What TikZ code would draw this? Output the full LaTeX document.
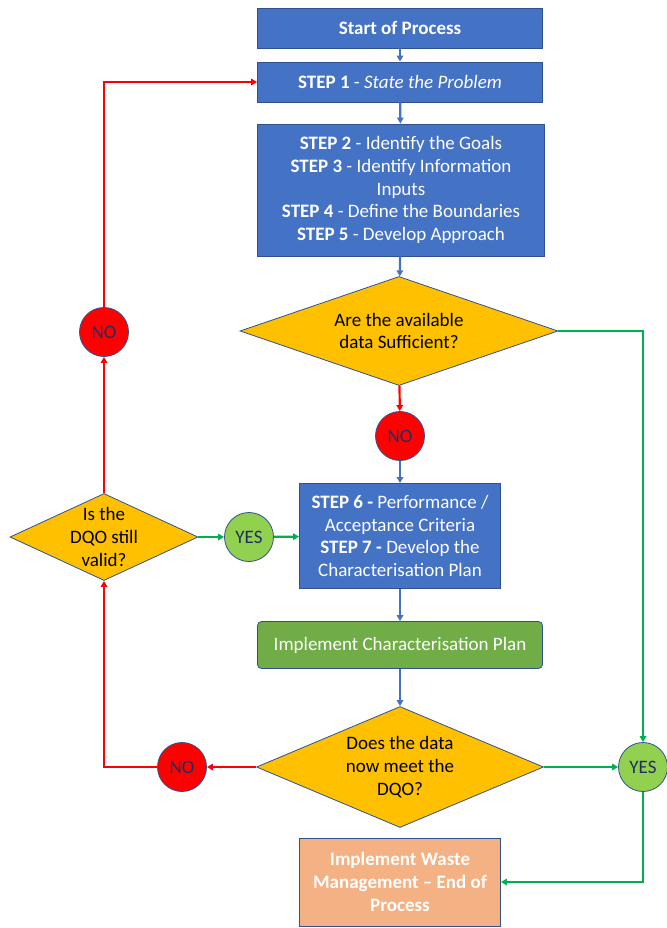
\documentclass[tikz,border=0pt]{standalone}
\usepackage{fontspec}
\setmainfont{Carlito}
\usetikzlibrary{shapes.geometric, arrows.meta}
\definecolor{boxblue}{HTML}{4472C4}
\definecolor{edgeblue}{HTML}{2F528F}
\definecolor{qgold}{HTML}{FFC000}
\definecolor{nored}{HTML}{FF0000}
\definecolor{yesgreen}{HTML}{92D050}
\definecolor{plangreen}{HTML}{70AD47}
\definecolor{endorange}{HTML}{F4B183}
\definecolor{linegreen}{HTML}{00B050}
\definecolor{circtext}{HTML}{1F2F5F}
\tikzstyle{stepbox} = [rectangle, draw=edgeblue, line width=0.8pt, fill=boxblue, text=white, align=center, inner sep=0pt]
\tikzstyle{question} = [diamond, draw=edgeblue, line width=0.8pt, fill=qgold, text=black, align=center, inner sep=0pt, aspect=2.9]
\tikzstyle{nocirc} = [circle, draw=edgeblue, line width=0.8pt, fill=nored, text=circtext, minimum size=49pt, inner sep=0pt]
\tikzstyle{yescirc} = [nocirc, fill=yesgreen]
\tikzstyle{arrow} = [line width=2.2pt, -{Triangle[length=6pt,width=6.5pt]}]
\tikzstyle{bluearrow} = [arrow, draw=boxblue]
\tikzstyle{redarrow} = [arrow, draw=nored]
\tikzstyle{greenarrow} = [arrow, draw=linegreen]

\begin{document}
\begin{tikzpicture}[x=1pt, y=-1pt, font=\fontsize{19}{22.9}\selectfont]
	\useasboundingbox (0,0) rectangle (666,928);
	% main column
	\node[stepbox, minimum width=285, minimum height=40] (start) at (400,28) {\textbf{Start of Process}};
	\node[stepbox, minimum width=285, minimum height=40] (step1) at (400,82) {\textbf{STEP 1} - \textit{State the Problem}};
	\node[stepbox, minimum width=287, minimum height=132] (step25) at (401,190)
		{\textbf{STEP 2} - Identify the Goals\\\textbf{STEP 3} - Identify Information\\Inputs\\\textbf{STEP 4} - Define the Boundaries\\\textbf{STEP 5} - Develop Approach};
	\node[question, minimum width=318, minimum height=109] (suff) at (399,331) {Are the available\\data Sufficient?};
	\node[nocirc] (no1) at (400,436) {NO};
	\node[stepbox, minimum width=201, minimum height=105] (step67) at (400,536)
		{\textbf{STEP 6 -} Performance /\\Acceptance Criteria\\\textbf{STEP 7 -} Develop the\\Characterisation Plan};
	\node[stepbox, fill=plangreen, rounded corners=4pt, minimum width=285, minimum height=47] (plan) at (400,645) {Implement Characterisation Plan};
	\node[question, minimum width=287, minimum height=121, aspect=2.4] (meet) at (400,767) {Does the data\\now meet the\\DQO?};
	\node[stepbox, fill=endorange, minimum width=201, minimum height=88] (finish) at (400,882)
		{\textbf{Implement Waste}\\\textbf{Management -- End of}\\\textbf{Process}};
	% loop back
	\node[question, minimum width=188, minimum height=87, aspect=2.16,
		label={[align=center]center:Is the\\DQO still\\valid?}] (valid) at (104,537) {};
	\node[nocirc] (no3) at (104,332) {NO};
	\node[yescirc] (yes1) at (249,537) {YES};
	\node[nocirc] (no2) at (182,767) {NO};
	\node[yescirc] (yes2) at (643,767) {YES};

	\draw[bluearrow] (start) -- (step1);
	\draw[bluearrow] (step1) -- (step25);
	\draw[bluearrow] (step25) -- (suff);
	\draw[redarrow] (suff) -- (no1);
	\draw[bluearrow] (no1) -- (step67);
	\draw[bluearrow] (step67) -- (plan);
	\draw[bluearrow] (plan) -- (meet);
	\draw[greenarrow] (suff.east) -| (yes2.north);
	\draw[greenarrow] (meet) -- (yes2);
	\draw[greenarrow] (yes2.south) |- (finish.east);
	\draw[redarrow] (meet) -- (no2);
	\draw[redarrow] (no2) -| (valid.south);
	\draw[redarrow] (valid) -- (no3);
	\draw[redarrow] (no3.north) |- (step1.west);
	\draw[greenarrow] (valid) -- (yes1);
	\draw[greenarrow] (yes1) -- (step67);
\end{tikzpicture}
\end{document}
